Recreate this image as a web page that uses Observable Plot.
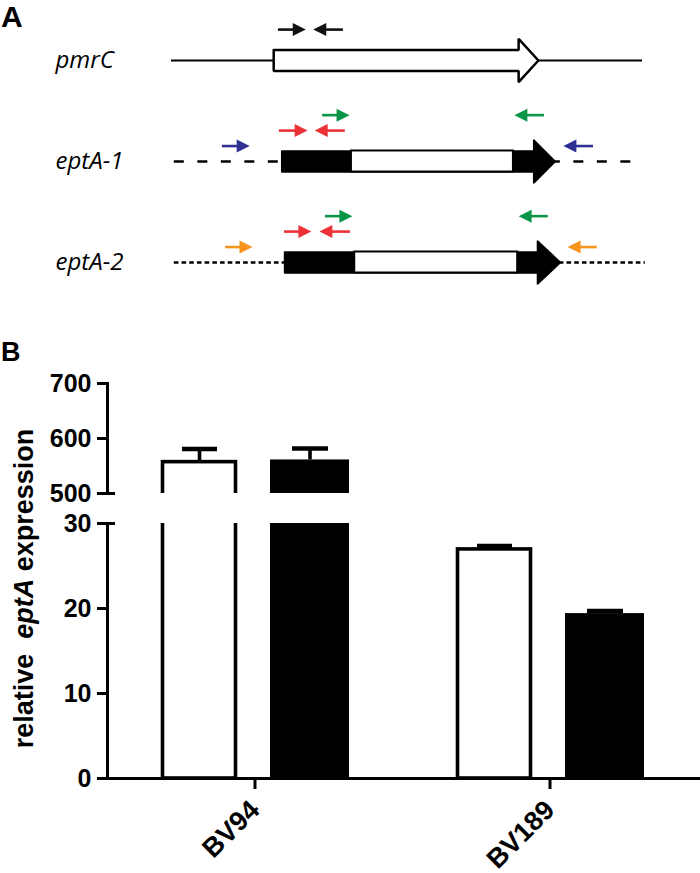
<!DOCTYPE html>
<html><head><meta charset="utf-8">
<script src="https://cdn.jsdelivr.net/npm/d3@7"></script>
<script src="https://cdn.jsdelivr.net/npm/@observablehq/plot@0.6"></script>
<style>
html,body{margin:0;padding:0;background:#fff;}
#root{position:relative;width:700px;height:873px;overflow:hidden;}
#root svg{position:absolute;left:0;}
.panel{position:absolute;left:1px;font-family:"Liberation Sans",Arial,sans-serif;font-weight:700;line-height:1;color:#000;}
#ytitle{position:absolute;width:420px;text-align:center;font-family:"Liberation Sans",Arial,sans-serif;font-weight:700;font-size:27px;line-height:27px;height:27px;color:#000;white-space:pre;transform:rotate(-90deg);}
</style></head><body><div id="root"></div>
<script>
// ---------------- Panel A: locus diagrams (positions in % of locus length) ----------------
const rows = ["pmrC", "eptA-1", "eptA-2"];
const backboneStart = [0, 0.6, 0.6];
const backboneEnd = [100, 98.9, 100.6];
const geneStart = [21.7, 23.4, 24.0];
const geneHeadBase = [73.7, 76.9, 77.7];
const geneTip = [77.9, 81.5, 82.6];
const openSegStart = [null, 38.2, 38.9];
const openSegEnd = [null, 72.6, 73.5];

// primers: row index, lane above the backbone, start, end (arrow tip), colour
const primerRow  = [0, 0, 1, 1, 1, 1, 1, 1, 2, 2, 2, 2, 2, 2];
const primerLane = [2, 2, 1, 2, 2, 3, 3, 1, 1, 2, 2, 3, 3, 1];
const primerFrom = [22.7, 36.5, 10.8, 22.9, 36.9, 32.1, 79.2, 89.6, 11.5, 24.0, 38.0, 32.7, 80.0, 90.4];
const primerTo   = [28.5, 30.1, 16.6, 28.9, 30.4, 37.8, 72.8, 83.2, 17.2, 29.7, 31.4, 38.4, 73.7, 84.1];
const primerColor = ["#111111", "#111111",
  "#2e3192", "#ed3237", "#ed3237", "#0a9548", "#0a9548", "#2e3192",
  "#f7941d", "#ed3237", "#ed3237", "#0a9548", "#0a9548", "#f7941d"];

// ---------------- Panel B: relative eptA expression ----------------
const strains = ["BV94", "BV189"];
const series = ["open", "filled"];
const valuesOpen = [557, 26.95];
const errorsOpen = [24, 0.4];
const valuesFilled = [561, 19.4];
const errorsFilled = [21, 0.3];
const upperTicks = [500, 600, 700];
const lowerTicks = [0, 10, 20, 30];

// ---------- build tables ----------
const BODY = 0.104, HEAD = 0.215, LANE = 0.153;
const backbones = rows.map((r, i) => ({row: i, start: backboneStart[i], end: backboneEnd[i]}));
const genePoly = rows.flatMap((r, i) => {
  const s = geneStart[i], hb = geneHeadBase[i], t = geneTip[i];
  return [[s, -BODY], [hb, -BODY], [hb, -HEAD], [t, 0], [hb, HEAD], [hb, BODY], [s, BODY], [s, -BODY]]
    .map(([x, o]) => ({gene: r, row: i, x, y: i + o}));
});
const openSegs = rows.map((r, i) => ({row: i, x1: openSegStart[i], x2: openSegEnd[i]})).filter(d => d.x1 != null);
const primers = primerRow.map((r, i) => ({
  row: r, y: r - LANE * primerLane[i], from: primerFrom[i], to: primerTo[i],
  color: primerColor[i], dir: primerTo[i] > primerFrom[i] ? 1 : -1
}));

const root = document.getElementById("root");

const plotA = Plot.plot({
  width: 700, height: 300, margin: 0,
  x: {domain: [0, 100], range: [171, 642], axis: null},
  y: {domain: [0, 2], range: [60, 262], axis: null},
  color: {type: "identity"},
  style: {background: "transparent", overflow: "visible"},
  marks: [
    Plot.ruleY(backbones.filter(d => d.row === 0), {x1: "start", x2: "end", y: "row", stroke: "black", strokeWidth: 2.2}),
    Plot.ruleY(backbones.filter(d => d.row === 1), {x1: "start", x2: "end", y: "row", stroke: "black", strokeWidth: 2.4, strokeDasharray: "10,13.5"}),
    Plot.ruleY(backbones.filter(d => d.row === 2), {x1: "start", x2: "end", y: "row", stroke: "black", strokeWidth: 2.4, strokeDasharray: "4.6,3.1"}),
    Plot.line(genePoly.filter(d => d.row === 0), {x: "x", y: "y", z: "gene", fill: "white", stroke: "black", strokeWidth: 2.5, strokeLinejoin: "miter"}),
    Plot.line(genePoly.filter(d => d.row > 0), {x: "x", y: "y", z: "gene", fill: "black", stroke: "black", strokeWidth: 1.5, strokeLinejoin: "miter"}),
    Plot.rect(openSegs, {x1: "x1", x2: "x2", y1: d => d.row - BODY, y2: d => d.row + BODY, fill: "white", stroke: "black", strokeWidth: 2}),
    Plot.ruleY(primers.filter(d => d.dir > 0), {x1: "from", x2: "to", y: "y", stroke: "color", strokeWidth: 2.6, insetRight: 6}),
    Plot.ruleY(primers.filter(d => d.dir < 0), {x1: "to", x2: "from", y: "y", stroke: "color", strokeWidth: 2.6, insetLeft: 6}),
    Plot.vector(primers, {x: "to", y: "y", rotate: d => d.dir > 0 ? 90 : -90, shape: "spike", anchor: "end", length: 13, r: 6.5, fill: "color", stroke: "none"}),
    Plot.text(rows, {y: (d, i) => i, text: d => d, frameAnchor: "left", dx: 55, textAnchor: "start",
      fontSize: 24, fontStyle: "italic", fontFamily: "Open Sans", fill: "black"})
  ]
});
plotA.style.top = "0px";
root.appendChild(plotA);

const barData = strains.flatMap((s, i) => [
  {strain: s, series: series[0], value: valuesOpen[i], error: errorsOpen[i]},
  {strain: s, series: series[1], value: valuesFilled[i], error: errorsFilled[i]}
]);

function panelB({domain, ticks, height, marginTop, marginBottom, top, breakAt, xAxis}) {
  const inDomain = d => d.value >= domain[0] && d.value <= domain[1];
  const openD = barData.filter(d => d.series === series[0]);
  const filledD = barData.filter(d => d.series === series[1]);
  const p = Plot.plot({
    width: 700, height, marginTop, marginBottom, marginLeft: 107, marginRight: 0,
    x: {domain: strains, range: [107, 697], padding: 0, axis: null},
    y: {domain, axis: null},
    style: {background: "transparent", overflow: "visible", fontFamily: "Liberation Sans, Arial, sans-serif", fontWeight: "bold", fontSize: "25px", color: "black"},
    marks: [
      Plot.barY(openD, {x: "strain", y: "value", fill: "white", stroke: "black", strokeWidth: 3.6, insetLeft: 55.5, insetRight: 166.5, clip: true}),
      Plot.barY(filledD, {x: "strain", y: "value", fill: "black", insetLeft: 163, insetRight: 53, clip: true}),
      Plot.ruleX(openD.filter(inDomain), {x: "strain", y1: "value", y2: d => d.value + d.error, dx: -55.5, strokeWidth: 3.6}),
      Plot.ruleX(filledD.filter(inDomain), {x: "strain", y1: "value", y2: d => d.value + d.error, dx: 55, strokeWidth: 3.6}),
      Plot.tickY(openD.filter(inDomain), {x: "strain", y: d => d.value + d.error, insetLeft: 75, insetRight: 185, strokeWidth: 4.5}),
      Plot.tickY(filledD.filter(inDomain), {x: "strain", y: d => d.value + d.error, insetLeft: 185, insetRight: 74, strokeWidth: 4.5}),
      Plot.axisY(ticks, {tickSize: 10, tickPadding: 6, strokeWidth: 3, fontSize: 25, fontWeight: "bold", label: null}),
      Plot.frame({anchor: "left", strokeWidth: 3}),
      Plot.ruleY([breakAt], {insetRight: 585, strokeWidth: 3}),
      ...(xAxis ? [
        Plot.ruleY([0], {strokeWidth: 3}),
        Plot.axisX({tickSize: 11, tickPadding: 16, strokeWidth: 3, tickRotate: -45, fontSize: 27, fontWeight: "bold", label: null})
      ] : [])
    ]
  });
  p.style.top = top + "px";
  return p;
}

root.appendChild(panelB({domain: [500, 700], ticks: upperTicks, height: 150, marginTop: 23, marginBottom: 17, top: 360, breakAt: 500, xAxis: false}));
root.appendChild(panelB({domain: [0, 30], ticks: lowerTicks, height: 368, marginTop: 18, marginBottom: 95, top: 505, breakAt: 30, xAxis: true}));

// panel letters and y-axis title
const A = document.createElement("div");
A.className = "panel"; A.style.top = "2px"; A.style.fontSize = "30px"; A.textContent = "A";
root.appendChild(A);
const B = document.createElement("div");
B.className = "panel"; B.style.top = "339px"; B.style.fontSize = "27px"; B.textContent = "B";
root.appendChild(B);
const yt = document.createElement("div");
yt.id = "ytitle";
yt.innerHTML = "relative  <i>eptA</i> expression";
yt.style.left = (24 - 210) + "px";
yt.style.top = (588 - 13.5) + "px";
root.appendChild(yt);
</script></body></html>
